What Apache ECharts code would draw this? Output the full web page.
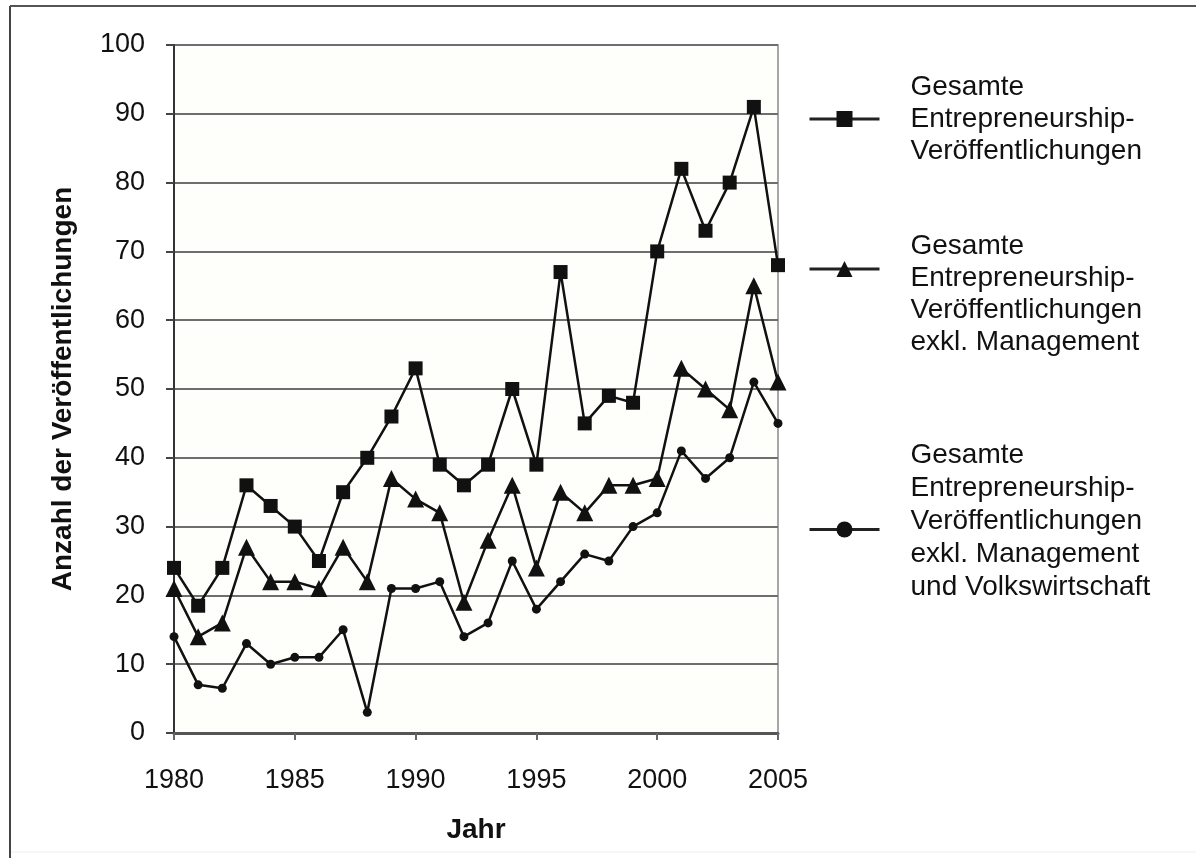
<!DOCTYPE html>
<html lang="de">
<head>
    <meta charset="UTF-8">
    <title>Entrepreneurship-Veröffentlichungen</title>
    <script src="https://cdn.jsdelivr.net/npm/echarts@6/dist/echarts.min.js"></script>
    <style>
        html, body {
            margin: 0;
            height: 100%;
            background: #ffffff;
        }
    </style>
</head>
<body>
<div id="main" style="width: 1196px;height: 858px;"></div>
<script>
    // Jahre und Werte
    var years = [1980, 1981, 1982, 1983, 1984, 1985, 1986, 1987, 1988, 1989, 1990, 1991, 1992,
        1993, 1994, 1995, 1996, 1997, 1998, 1999, 2000, 2001, 2002, 2003, 2004, 2005];
    var gesamt = [24, 18.5, 24, 36, 33, 30, 25, 35, 40, 46, 53, 39, 36,
        39, 50, 39, 67, 45, 49, 48, 70, 82, 73, 80, 91, 68];
    var exklManagement = [21, 14, 16, 27, 22, 22, 21, 27, 22, 37, 34, 32, 19,
        28, 36, 24, 35, 32, 36, 36, 37, 53, 50, 47, 65, 51];
    var exklManagementVwl = [14, 7, 6.5, 13, 10, 11, 11, 15, 3, 21, 21, 22, 14,
        16, 25, 18, 22, 26, 25, 30, 32, 41, 37, 40, 51, 45];
    var yTicks = [0, 10, 20, 30, 40, 50, 60, 70, 80, 90, 100];

    var names = [
        'Gesamte Entrepreneurship-Veröffentlichungen',
        'Gesamte Entrepreneurship-Veröffentlichungen exkl. Management',
        'Gesamte Entrepreneurship-Veröffentlichungen exkl. Management und Volkswirtschaft'
    ];
    var labelLines = [
        ['Gesamte', 'Entrepreneurship-', 'Veröffentlichungen'],
        ['Gesamte', 'Entrepreneurship-', 'Veröffentlichungen', 'exkl. Management'],
        ['Gesamte', 'Entrepreneurship-', 'Veröffentlichungen', 'exkl. Management', 'und Volkswirtschaft']
    ];

    function pairs(vals) {
        return years.map(function (y, i) {
            return [y, vals[i]];
        });
    }

    var font = '"Liberation Sans", Arial, sans-serif';

    // eine Legende je Reihe, damit der Text frei neben dem Symbol sitzt
    function legendFor(idx, top, spaceTop, spaceBottom, lh) {
        return {
            data: [names[idx]],
            orient: 'vertical',
            left: 808,
            top: top,
            padding: 0,
            itemWidth: 70,
            itemHeight: 20,
            selectedMode: false,
            lineStyle: {width: 3, color: '#222'},
            formatter: function () {
                var txt = labelLines[idx].map(function (l) {
                    return '{t|' + l + '}';
                }).join('\n');
                if (spaceTop) txt = '{a| }\n' + txt;
                if (spaceBottom) txt = txt + '\n{b| }';
                return txt;
            },
            textStyle: {
                fontFamily: font,
                fontSize: 28,
                color: '#111',
                padding: [0, 0, 0, 26],
                rich: {
                    t: {fontFamily: font, fontSize: 28, lineHeight: lh, color: '#111'},
                    a: {fontSize: 10, lineHeight: spaceTop || 10},
                    b: {fontSize: 10, lineHeight: spaceBottom || 10}
                }
            }
        };
    }

    var myChart = echarts.init(document.getElementById('main'));
    var option = {
        backgroundColor: '#ffffff',
        animation: false,
        graphic: [
            {type: 'line', shape: {x1: 10, y1: 6, x2: 10, y2: 858}, style: {stroke: '#444', lineWidth: 2}},
            {type: 'line', shape: {x1: 10, y1: 6, x2: 1196, y2: 6}, style: {stroke: '#555', lineWidth: 2}},
            {type: 'line', shape: {x1: 11, y1: 852, x2: 1196, y2: 852}, style: {stroke: '#eeeeee', lineWidth: 1}}
        ],
        grid: {
            left: 174,
            right: 418,
            top: 45,
            bottom: 125,
            show: true,
            backgroundColor: '#fefefb',
            borderColor: '#8a8a8a',
            borderWidth: 1.5
        },
        legend: [
            legendFor(0, 73, 0, 0, 32),
            legendFor(1, 200, 50, 0, 32),
            legendFor(2, 0, 0, 16, 33)
        ],
        xAxis: {
            type: 'value',
            min: years[0],
            max: years[years.length - 1],
            interval: 5,
            name: 'Jahr',
            nameLocation: 'middle',
            nameGap: 83,
            nameTextStyle: {fontFamily: font, fontSize: 28, fontWeight: 'bold', color: '#111'},
            axisLine: {lineStyle: {color: '#555', width: 3}},
            axisTick: {show: true, length: 7, lineStyle: {color: '#666', width: 2}},
            axisLabel: {
                margin: 34,
                fontFamily: font,
                fontSize: 27,
                color: '#111',
                formatter: function (v) {
                    return String(v);
                }
            },
            splitLine: {show: false}
        },
        yAxis: {
            type: 'value',
            min: yTicks[0],
            max: yTicks[yTicks.length - 1],
            interval: yTicks[1] - yTicks[0],
            name: 'Anzahl der Veröffentlichungen',
            nameLocation: 'middle',
            nameGap: 97,
            nameTextStyle: {fontFamily: font, fontSize: 28, fontWeight: 'bold', color: '#111'},
            axisLine: {show: true, lineStyle: {color: '#333', width: 2}},
            axisTick: {show: true, length: 8, lineStyle: {color: '#444', width: 2}},
            axisLabel: {margin: 29, fontFamily: font, fontSize: 27, color: '#111'},
            splitLine: {show: true, lineStyle: {color: '#6e6e6e', width: 2}}
        },
        series: [
            {
                name: names[0],
                type: 'line',
                data: pairs(gesamt),
                symbol: 'rect',
                symbolSize: 14,
                lineStyle: {color: '#111', width: 2.5},
                itemStyle: {color: '#111'}
            },
            {
                name: names[1],
                type: 'line',
                data: pairs(exklManagement),
                symbol: 'triangle',
                symbolSize: 17,
                lineStyle: {color: '#111', width: 2.5},
                itemStyle: {color: '#111'}
            },
            {
                name: names[2],
                type: 'line',
                data: pairs(exklManagementVwl),
                symbol: 'circle',
                symbolSize: 9,
                lineStyle: {color: '#111', width: 2.5},
                itemStyle: {color: '#111'}
            }
        ]
    };
    // dritte Legende: Symbol bei y=529
    option.legend[2].top = 532 - (5 * 33 + 16) / 2;
    myChart.setOption(option);
</script>
</body>
</html>
